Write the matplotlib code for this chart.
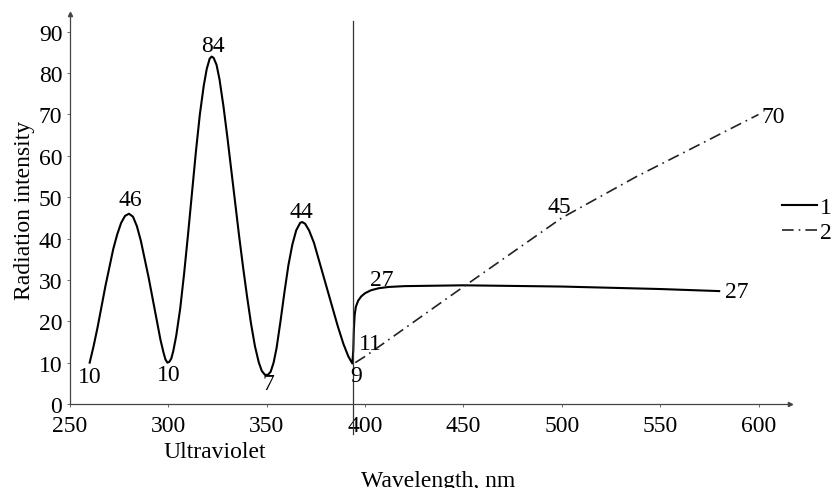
import matplotlib
matplotlib.use('Agg')
import matplotlib.pyplot as plt

# curve 1 (solid)
wl_1 = [260, 262, 264, 266, 268, 270, 272, 274, 276, 278, 280, 282, 284, 286,
        288, 290, 292, 294, 296, 297.5, 298.5, 299.5, 300.5, 301.5, 302.5, 304,
        306, 308, 310, 312, 314, 316, 318, 319.5, 321, 322, 323, 324.5, 326,
        328, 330, 332, 334, 336, 338, 340, 342, 344, 346, 347.5, 349, 350.5,
        352, 353.5, 355, 357, 359, 361, 363, 365, 367, 368, 369.5, 371.5, 374,
        377, 380, 383, 386, 389, 391.5, 393.5,
        394, 394.3, 394.7, 395.3, 396.5, 398, 400, 403, 407, 412, 420, 450,
        500, 550, 580]
int_1 = [10, 14, 18.5, 23.5, 28.5, 33, 37.5, 41, 43.8, 45.5, 46, 45.3, 43, 39.5,
         35, 30.5, 25.5, 20.5, 15.5, 12.5, 10.8, 10, 10.2, 11, 12.8, 16.5,
         23, 31.5, 41, 51, 61, 70, 77, 81, 83.5, 84, 83.7, 82, 78.5,
         72, 64.5, 56.5, 48.5, 40.5, 33, 26, 19.5, 14, 10, 8, 7.1, 7,
         7.8, 10, 13.5, 20, 27, 33.5, 38.5, 42, 43.8, 44, 43.6, 42, 39,
         34, 29, 24, 19, 14.5, 11.5, 9.8,
         13, 18, 21.5, 23.5, 25, 26, 26.8, 27.5, 28, 28.3, 28.5, 28.7,
         28.4, 27.8, 27.3]

# curve 2 (dash-dot)
wl_2 = [395, 400, 443, 500, 538, 600]
int_2 = [10, 11.5, 26, 45, 55, 70]

# value labels: text, x, y
point_labels = [
    ('10', 260, 6.6), ('46', 280.5, 49.4), ('84', 322.6, 86.6),
    ('10', 300, 7.2), ('7', 350.7, 5.0), ('44', 367.6, 46.6),
    ('9', 395.5, 7.0), ('11', 402.5, 14.6), ('27', 408.7, 30.2),
    ('45', 498.7, 47.8),
]
end_labels = [('70', 601.5, 69.6), ('27', 583, 27.2)]

x_ticks = [250, 300, 350, 400, 450, 500, 550, 600]
y_ticks = [0, 10, 20, 30, 40, 50, 60, 70, 80, 90]
uv_border = 394

plt.rcParams['font.family'] = ['Liberation Serif', 'DejaVu Serif']
fs = 17

fig = plt.figure(figsize=(8.36, 4.89), dpi=100)
ax = fig.add_axes([70 / 836, 84 / 489, 720 / 836, 390 / 489])

ax.plot(wl_1, int_1, color='black', linewidth=1.5, label='1',
        solid_joinstyle='round')
ax.plot(wl_2, int_2, color='#222222', linewidth=1.2,
        linestyle=(0, (7, 3, 1, 3)), label='2')

# boundary of the ultraviolet region
ax.plot([uv_border, uv_border], [-7.3, 92.5], color='#333333',
        linewidth=0.9, clip_on=False)

for txt, x, y in point_labels:
    ax.text(x, y, txt, ha='center', va='center', fontsize=fs)
for txt, x, y in end_labels:
    ax.text(x, y, txt, ha='left', va='center', fontsize=fs)

ax.set_xlim(250, 616)
ax.set_ylim(0, 94.3)
ax.set_xticks(x_ticks)
ax.set_yticks(y_ticks)
ax.tick_params(direction='out', length=2.5, width=0.6, colors='#555555',
               labelcolor='black', labelsize=fs)
ax.tick_params(axis='x', pad=5.5)
ax.tick_params(axis='y', pad=3)

for side in ['top', 'right']:
    ax.spines[side].set_visible(False)
for side in ['left', 'bottom']:
    ax.spines[side].set_color('#444444')
    ax.spines[side].set_linewidth(0.9)

# small arrow heads at axis ends
ax.plot([1], [0], marker='>', markersize=3, color='#444444',
        transform=ax.transAxes, clip_on=False)
ax.plot([0], [1], marker='^', markersize=3, color='#444444',
        transform=ax.transAxes, clip_on=False)

ax.set_ylabel('Radiation intensity', fontsize=fs, labelpad=3)
ax.text(323.5, -11.6, 'Ultraviolet', ha='center', va='center', fontsize=fs)
fig.text(438 / 836, 2 / 489, 'Wavelength, nm', ha='center',
         va='baseline', fontsize=fs)

ax.legend(loc='center left', bbox_to_anchor=(782 / 836, 1 - 221 / 489),
          bbox_transform=fig.transFigure, frameon=False, fontsize=fs,
          handlelength=1.5, handletextpad=0.1, labelspacing=0.15,
          borderpad=0, borderaxespad=0)

plt.savefig('out.png', dpi=100)
